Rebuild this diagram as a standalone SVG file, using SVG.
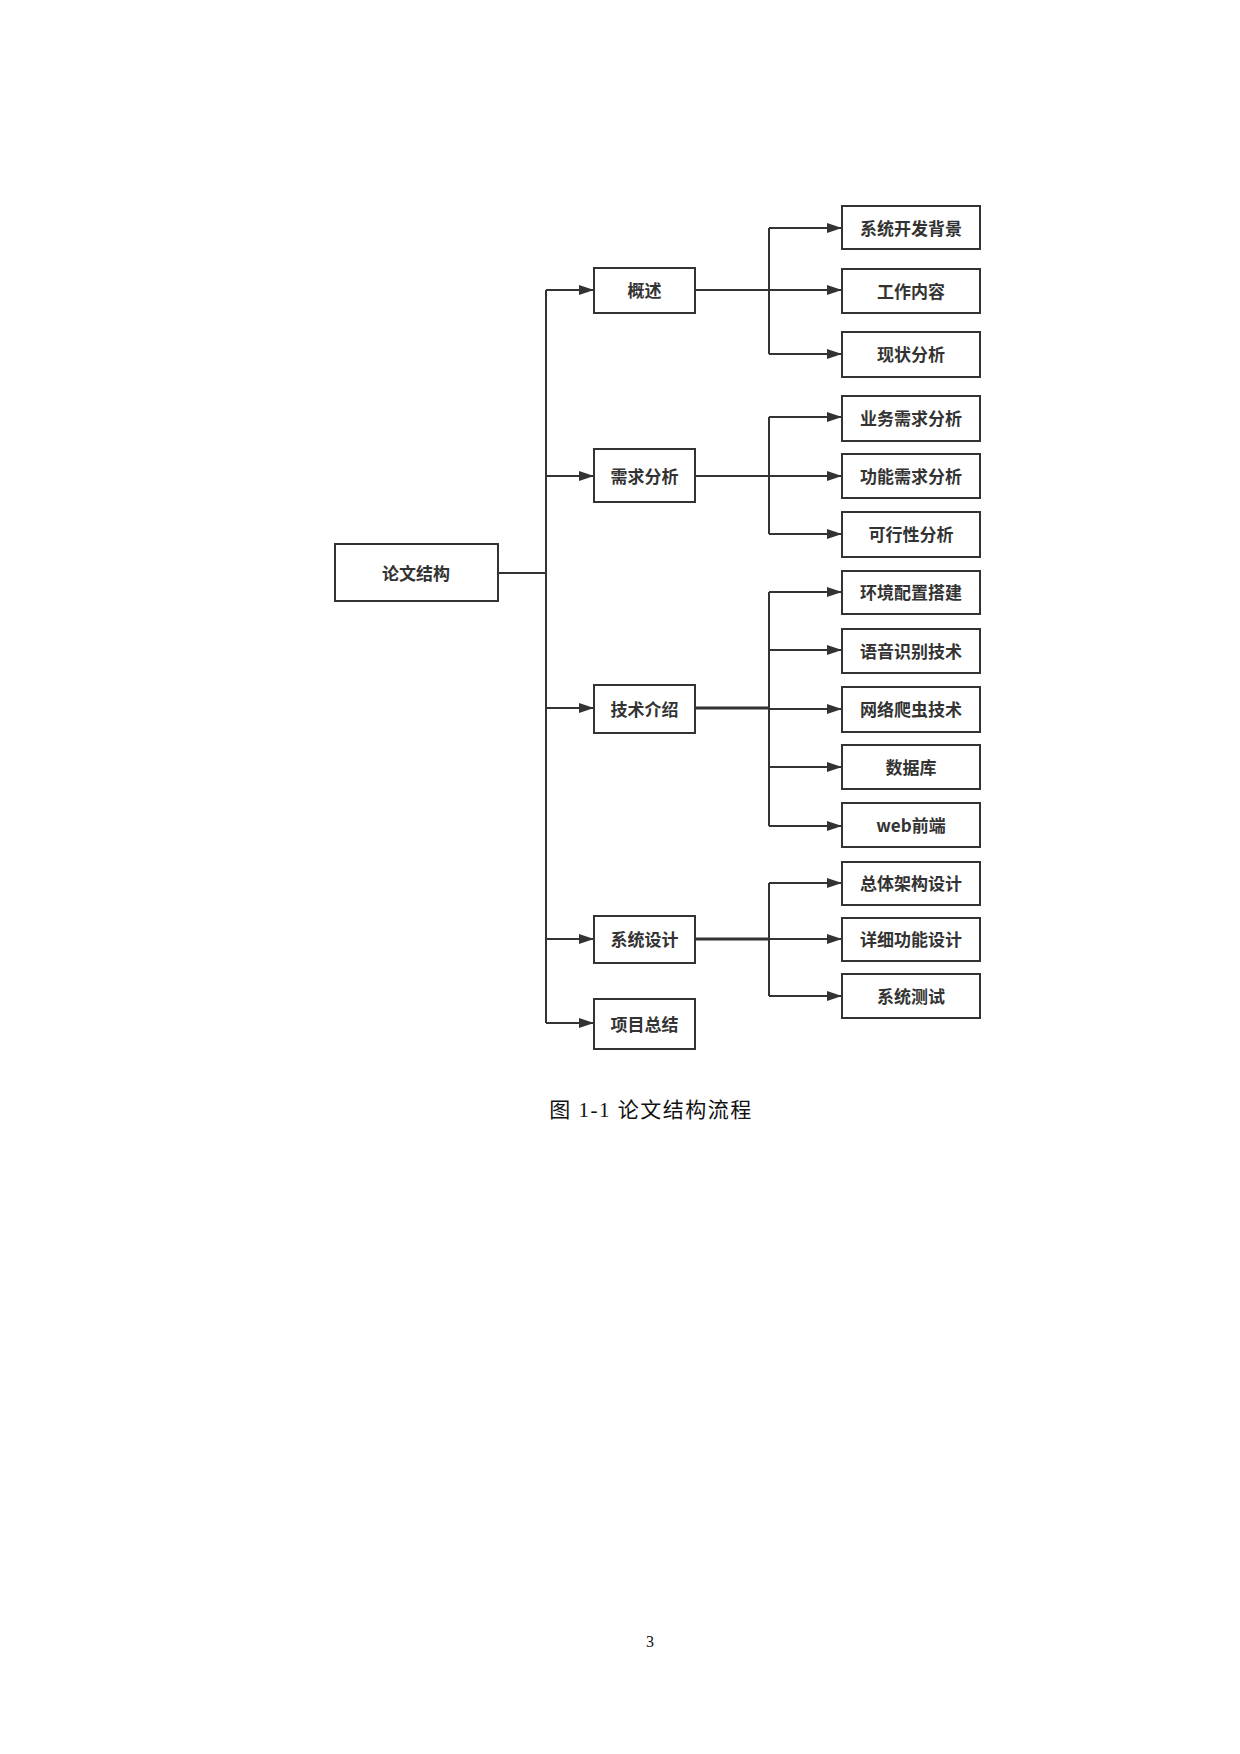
<svg xmlns="http://www.w3.org/2000/svg" width="1240" height="1754" viewBox="0 0 1240 1754">
<style>
.box{fill:#fff;stroke:#333;stroke-width:2}
.t{font-family:"Noto Sans CJK SC","Microsoft YaHei",sans-serif;font-weight:700;font-size:17px;fill:#333;text-anchor:middle;dominant-baseline:central}
.ln{fill:none;stroke:#333;stroke-width:2}
.thick{stroke-width:3}
.ar{fill:none;stroke:#333;stroke-width:2;marker-end:url(#ah)}
.cap{font-family:"Liberation Serif","Noto Sans CJK SC",serif;font-size:21px;fill:#111;text-anchor:middle;letter-spacing:1.5px}
.pg{font-family:"Liberation Serif",serif;font-size:16px;fill:#111;text-anchor:middle}
</style>
<defs>
<marker id="ah" markerUnits="userSpaceOnUse" markerWidth="16" markerHeight="12" refX="15" refY="6" orient="auto">
<path d="M0,1 L15,6 L0,11 Z" fill="#333"/>
</marker>
</defs>
<rect width="1240" height="1754" fill="#fff"/>
<g id="connectors">
<path class="ln" d="M498,573 H546 M546,290 V1023"/>
<path class="ar" d="M546,290 H594"/>
<path class="ar" d="M546,476 H594"/>
<path class="ar" d="M546,708 H594"/>
<path class="ar" d="M546,939 H594"/>
<path class="ar" d="M546,1023 H594"/>
<path class="ln" d="M695,290 H769 M769,228 V354"/>
<path class="ar" d="M769,228 H842"/>
<path class="ar" d="M769,290 H842"/>
<path class="ar" d="M769,354 H842"/>
<path class="ln" d="M695,476 H769 M769,417 V534"/>
<path class="ar" d="M769,417 H842"/>
<path class="ar" d="M769,476 H842"/>
<path class="ar" d="M769,534 H842"/>
<path class="ln thick" d="M695,708 H769"/>
<path class="ln" d="M769,592 V826"/>
<path class="ar" d="M769,592 H842"/>
<path class="ar" d="M769,650 H842"/>
<path class="ar" d="M769,709 H842"/>
<path class="ar" d="M769,767 H842"/>
<path class="ar" d="M769,826 H842"/>
<path class="ln thick" d="M695,939 H769"/>
<path class="ln" d="M769,883 V996"/>
<path class="ar" d="M769,883 H842"/>
<path class="ar" d="M769,939 H842"/>
<path class="ar" d="M769,996 H842"/>
</g>
<g id="root"><rect class="box" x="335" y="544" width="163" height="57"/><text class="t" x="416" y="572">论文结构</text></g>
<g id="n1"><rect class="box" x="594" y="268" width="101" height="45"/><text class="t" x="644.5" y="289">概述</text></g>
<g id="n2"><rect class="box" x="594" y="449" width="101" height="53"/><text class="t" x="644.5" y="475">需求分析</text></g>
<g id="n3"><rect class="box" x="594" y="685" width="101" height="48"/><text class="t" x="644.5" y="708">技术介绍</text></g>
<g id="n4"><rect class="box" x="594" y="916" width="101" height="47"/><text class="t" x="644.5" y="938">系统设计</text></g>
<g id="n5"><rect class="box" x="594" y="999" width="101" height="50"/><text class="t" x="644.5" y="1023">项目总结</text></g>
<g id="l1"><rect class="box" x="842" y="206" width="138" height="43"/><text class="t" x="911" y="227">系统开发背景</text></g>
<g id="l2"><rect class="box" x="842" y="269" width="138" height="44"/><text class="t" x="911" y="290">工作内容</text></g>
<g id="l3"><rect class="box" x="842" y="332" width="138" height="45"/><text class="t" x="911" y="353">现状分析</text></g>
<g id="l4"><rect class="box" x="842" y="396" width="138" height="45"/><text class="t" x="911" y="417">业务需求分析</text></g>
<g id="l5"><rect class="box" x="842" y="454" width="138" height="44"/><text class="t" x="911" y="475">功能需求分析</text></g>
<g id="l6"><rect class="box" x="842" y="512" width="138" height="45"/><text class="t" x="911" y="533">可行性分析</text></g>
<g id="l7"><rect class="box" x="842" y="571" width="138" height="43"/><text class="t" x="911" y="591">环境配置搭建</text></g>
<g id="l8"><rect class="box" x="842" y="629" width="138" height="44"/><text class="t" x="911" y="650">语音识别技术</text></g>
<g id="l9"><rect class="box" x="842" y="687" width="138" height="45"/><text class="t" x="911" y="708">网络爬虫技术</text></g>
<g id="l10"><rect class="box" x="842" y="745" width="138" height="44"/><text class="t" x="911" y="766">数据库</text></g>
<g id="l11"><rect class="box" x="842" y="803" width="138" height="44"/><text class="t" x="911" y="824">web前端</text></g>
<g id="l12"><rect class="box" x="842" y="862" width="138" height="43"/><text class="t" x="911" y="882">总体架构设计</text></g>
<g id="l13"><rect class="box" x="842" y="918" width="138" height="43"/><text class="t" x="911" y="938">详细功能设计</text></g>
<g id="l14"><rect class="box" x="842" y="974" width="138" height="44"/><text class="t" x="911" y="995">系统测试</text></g>
<text class="cap" x="651" y="1117">图 1-1 论文结构流程</text>
<text class="pg" x="650" y="1647">3</text>
</svg>
